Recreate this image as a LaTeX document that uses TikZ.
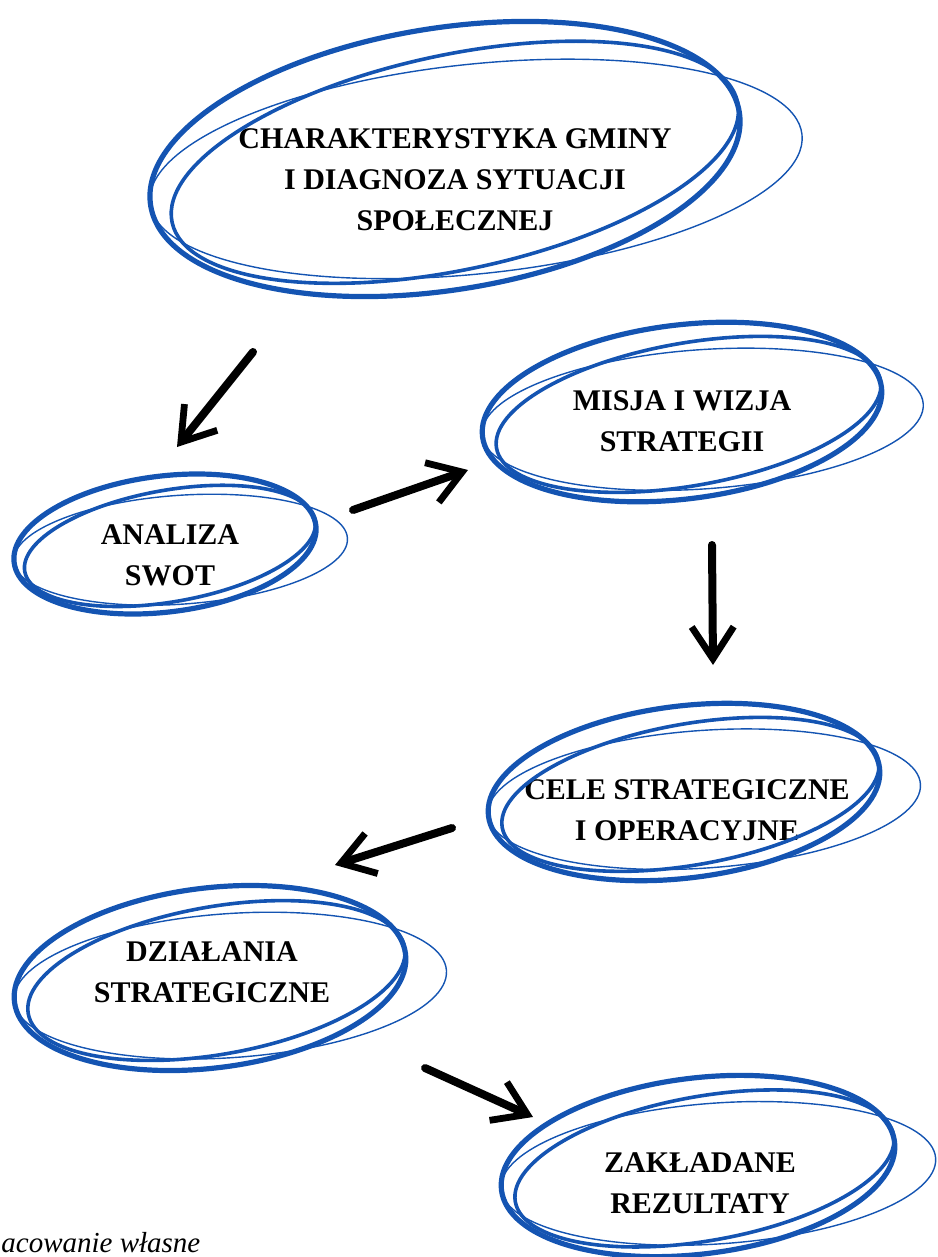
\documentclass[tikz,border=0pt]{standalone}
\usepackage{fontspec}
\setmainfont{Liberation Serif}
\usetikzlibrary{arrows.meta, calc}
\definecolor{scribblue}{RGB}{20,84,178}

\tikzset{
  stage/.style={font=\bfseries\fontsize{15}{20.5}\selectfont, align=center, inner sep=0pt},
  brush/.style={line width=4pt, line cap=round, black,
    -{Straight Barb[length=16pt, width=21pt, line width=3.4pt]}},
  ring/.style={draw=scribblue, line width=2.6pt},
  ringthin/.style={draw=scribblue, line width=1.8pt},
  ringhair/.style={draw=scribblue, line width=0.7pt},
}

% scribbled ring round a stage: {node}{dx}{dy}{rx}{ry}{angle}
\newcommand{\scribble}[6]{%
  \begin{scope}[shift={(#1)}, shift={(#2,#3)}, rotate=#6]
    \draw[ring] (0,0) ellipse [x radius=#4*0.5pt, y radius=#5*0.5pt];
    \draw[ringthin, rotate=3] ({0.03*#4},{0.04*#5})
      ellipse [x radius=#4*0.485pt, y radius=#5*0.41pt];
    \draw[ringhair, rotate=-3] ({0.1*#4},{0.1*#5})
      ellipse [x radius=#4*0.55pt, y radius=#5*0.4pt];
  \end{scope}}

\begin{document}
\begin{tikzpicture}[x=0.5pt, y=-0.5pt]
\useasboundingbox (0,0) rectangle (937,1257);

% ── stages ─────────────────────────────────────────────
\node[stage] (diag) at (455,180)
    {CHARAKTERYSTYKA GMINY\\I DIAGNOZA SYTUACJI\\SPOŁECZNEJ};
\node[stage] (misja) at (682,421) {MISJA I WIZJA\\STRATEGII};
\node[stage] (swot) at (170,555) {ANALIZA\\SWOT};
\node[stage] (cele) at (687,810) {CELE STRATEGICZNE\\I OPERACYJNE};
\node[stage] (dzial) at (212,972) {DZIAŁANIA\\STRATEGICZNE};
\node[stage] (zaklad) at (700,1183) {ZAKŁADANE\\REZULTATY};

% ── rings ──────────────────────────────────────────────
\scribble{diag}{-10}{-21}{298}{131}{9}
\scribble{misja}{0}{-9}{201}{87}{7}
\scribble{swot}{-5}{-11}{152}{68}{7}
\scribble{cele}{-3}{-18}{197}{86}{7}
\scribble{dzial}{-2}{6}{197}{90}{7}
\scribble{zaklad}{-2}{-17}{198}{88}{7}

% ── arrows ─────────────────────────────────────────────
\coordinate (a1) at (253,352);  \coordinate (a2) at (177,447);
\coordinate (b1) at (353,510);  \coordinate (b2) at (468,470);
\coordinate (c1) at (712,545);  \coordinate (c2) at (713,665);
\coordinate (d1) at (452,828);  \coordinate (d2) at (335,865);
\coordinate (e1) at (425,1068); \coordinate (e2) at (533,1117);
\draw[brush] (a1) -- (a2);
\draw[brush] (b1) -- (b2);
\draw[brush] (c1) -- (c2);
\draw[brush] (d1) -- (d2);
\draw[brush] (e1) -- (e2);

% source line at the left edge
\node[anchor=base west, inner sep=0pt, font=\itshape\fontsize{14.5}{17}\selectfont] (src)
    at (1,1252) {acowanie własne};

\end{tikzpicture}
\end{document}
